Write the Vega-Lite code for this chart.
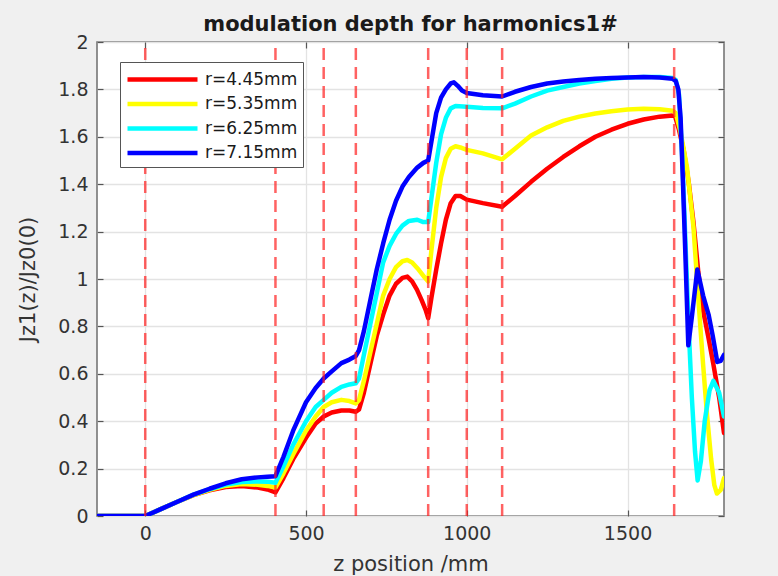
{
  "$schema": "https://vega.github.io/schema/vega-lite/v6.json",
  "width": 627,
  "height": 474,
  "autosize": {"type": "none"},
  "padding": {"left": 97, "top": 42, "right": 54, "bottom": 60},
  "background": "#f0f0f0",
  "title": {
    "text": "modulation depth for harmonics1#",
    "font": "DejaVu Sans",
    "fontSize": 21,
    "fontWeight": "bold",
    "color": "#1a1a1a",
    "offset": -2
  },
  "config": {
    "view": {"fill": "white", "stroke": "#6e6e6e", "strokeWidth": 1.5},
    "axis": {
      "labelFont": "DejaVu Sans",
      "labelFontSize": 19,
      "labelColor": "#333333",
      "titleFont": "DejaVu Sans",
      "titleFontSize": 21,
      "titleFontWeight": "normal",
      "titleColor": "#333333",
      "tickColor": "#555555",
      "tickWidth": 1.2,
      "tickSize": -6,
      "domain": false,
      "gridColor": "#e3e3e3",
      "gridWidth": 1.3
    },
    "legend": {
      "orient": "none",
      "legendX": 23,
      "legendY": 20,
      "symbolType": "M-1,0H6",
      "symbolSize": 400,
      "symbolStrokeWidth": 4.5,
      "labelFont": "DejaVu Sans",
      "labelFontSize": 17,
      "labelColor": "#1a1a1a",
      "labelOffset": 55,
      "rowPadding": 2.5,
      "strokeColor": "#555555",
      "fillColor": "white",
      "padding": 5
    }
  },
  "datasets": {
    "bounds": [
      {"z": 0}, {"z": 405}, {"z": 555}, {"z": 655}, {"z": 880}, {"z": 1000}, {"z": 1110}, {"z": 1645}
    ],
    "curves": [
      {"r": "r=4.45mm", "z": -150, "jz": 0},
      {"r": "r=4.45mm", "z": 0, "jz": 0},
      {"r": "r=4.45mm", "z": 50, "jz": 0.03},
      {"r": "r=4.45mm", "z": 100, "jz": 0.06},
      {"r": "r=4.45mm", "z": 150, "jz": 0.088},
      {"r": "r=4.45mm", "z": 200, "jz": 0.108},
      {"r": "r=4.45mm", "z": 250, "jz": 0.122},
      {"r": "r=4.45mm", "z": 300, "jz": 0.127},
      {"r": "r=4.45mm", "z": 350, "jz": 0.12},
      {"r": "r=4.45mm", "z": 380, "jz": 0.112},
      {"r": "r=4.45mm", "z": 405, "jz": 0.1},
      {"r": "r=4.45mm", "z": 430, "jz": 0.16},
      {"r": "r=4.45mm", "z": 460, "jz": 0.24},
      {"r": "r=4.45mm", "z": 500, "jz": 0.33},
      {"r": "r=4.45mm", "z": 530, "jz": 0.39},
      {"r": "r=4.45mm", "z": 555, "jz": 0.42},
      {"r": "r=4.45mm", "z": 580, "jz": 0.437},
      {"r": "r=4.45mm", "z": 610, "jz": 0.445},
      {"r": "r=4.45mm", "z": 635, "jz": 0.445},
      {"r": "r=4.45mm", "z": 655, "jz": 0.44},
      {"r": "r=4.45mm", "z": 665, "jz": 0.45},
      {"r": "r=4.45mm", "z": 680, "jz": 0.52},
      {"r": "r=4.45mm", "z": 700, "jz": 0.64},
      {"r": "r=4.45mm", "z": 720, "jz": 0.76},
      {"r": "r=4.45mm", "z": 740, "jz": 0.85},
      {"r": "r=4.45mm", "z": 760, "jz": 0.93},
      {"r": "r=4.45mm", "z": 780, "jz": 0.98},
      {"r": "r=4.45mm", "z": 800, "jz": 1.005},
      {"r": "r=4.45mm", "z": 815, "jz": 1.01},
      {"r": "r=4.45mm", "z": 830, "jz": 0.99},
      {"r": "r=4.45mm", "z": 845, "jz": 0.955},
      {"r": "r=4.45mm", "z": 860, "jz": 0.91},
      {"r": "r=4.45mm", "z": 872, "jz": 0.87},
      {"r": "r=4.45mm", "z": 880, "jz": 0.835},
      {"r": "r=4.45mm", "z": 890, "jz": 0.92},
      {"r": "r=4.45mm", "z": 905, "jz": 1.04},
      {"r": "r=4.45mm", "z": 920, "jz": 1.15},
      {"r": "r=4.45mm", "z": 935, "jz": 1.25},
      {"r": "r=4.45mm", "z": 950, "jz": 1.32},
      {"r": "r=4.45mm", "z": 965, "jz": 1.35},
      {"r": "r=4.45mm", "z": 980, "jz": 1.35},
      {"r": "r=4.45mm", "z": 1000, "jz": 1.335},
      {"r": "r=4.45mm", "z": 1050, "jz": 1.32},
      {"r": "r=4.45mm", "z": 1110, "jz": 1.305},
      {"r": "r=4.45mm", "z": 1150, "jz": 1.35},
      {"r": "r=4.45mm", "z": 1200, "jz": 1.41},
      {"r": "r=4.45mm", "z": 1250, "jz": 1.465},
      {"r": "r=4.45mm", "z": 1300, "jz": 1.515},
      {"r": "r=4.45mm", "z": 1350, "jz": 1.56},
      {"r": "r=4.45mm", "z": 1400, "jz": 1.6},
      {"r": "r=4.45mm", "z": 1450, "jz": 1.63},
      {"r": "r=4.45mm", "z": 1500, "jz": 1.655},
      {"r": "r=4.45mm", "z": 1550, "jz": 1.673},
      {"r": "r=4.45mm", "z": 1600, "jz": 1.685},
      {"r": "r=4.45mm", "z": 1640, "jz": 1.69},
      {"r": "r=4.45mm", "z": 1648, "jz": 1.685},
      {"r": "r=4.45mm", "z": 1660, "jz": 1.63},
      {"r": "r=4.45mm", "z": 1675, "jz": 1.54},
      {"r": "r=4.45mm", "z": 1690, "jz": 1.41},
      {"r": "r=4.45mm", "z": 1705, "jz": 1.24},
      {"r": "r=4.45mm", "z": 1720, "jz": 1.03},
      {"r": "r=4.45mm", "z": 1736, "jz": 0.86},
      {"r": "r=4.45mm", "z": 1752, "jz": 0.75},
      {"r": "r=4.45mm", "z": 1767, "jz": 0.64},
      {"r": "r=4.45mm", "z": 1785, "jz": 0.5},
      {"r": "r=4.45mm", "z": 1800, "jz": 0.35},

      {"r": "r=5.35mm", "z": -150, "jz": 0},
      {"r": "r=5.35mm", "z": 0, "jz": 0},
      {"r": "r=5.35mm", "z": 50, "jz": 0.03},
      {"r": "r=5.35mm", "z": 100, "jz": 0.06},
      {"r": "r=5.35mm", "z": 150, "jz": 0.088},
      {"r": "r=5.35mm", "z": 200, "jz": 0.11},
      {"r": "r=5.35mm", "z": 250, "jz": 0.127},
      {"r": "r=5.35mm", "z": 300, "jz": 0.135},
      {"r": "r=5.35mm", "z": 350, "jz": 0.132},
      {"r": "r=5.35mm", "z": 380, "jz": 0.127},
      {"r": "r=5.35mm", "z": 405, "jz": 0.12},
      {"r": "r=5.35mm", "z": 430, "jz": 0.18},
      {"r": "r=5.35mm", "z": 460, "jz": 0.26},
      {"r": "r=5.35mm", "z": 500, "jz": 0.36},
      {"r": "r=5.35mm", "z": 530, "jz": 0.42},
      {"r": "r=5.35mm", "z": 555, "jz": 0.46},
      {"r": "r=5.35mm", "z": 580, "jz": 0.48},
      {"r": "r=5.35mm", "z": 610, "jz": 0.49},
      {"r": "r=5.35mm", "z": 635, "jz": 0.485},
      {"r": "r=5.35mm", "z": 655, "jz": 0.475},
      {"r": "r=5.35mm", "z": 665, "jz": 0.49},
      {"r": "r=5.35mm", "z": 680, "jz": 0.57},
      {"r": "r=5.35mm", "z": 700, "jz": 0.69},
      {"r": "r=5.35mm", "z": 720, "jz": 0.81},
      {"r": "r=5.35mm", "z": 740, "jz": 0.93},
      {"r": "r=5.35mm", "z": 760, "jz": 1.0},
      {"r": "r=5.35mm", "z": 780, "jz": 1.05},
      {"r": "r=5.35mm", "z": 800, "jz": 1.075},
      {"r": "r=5.35mm", "z": 815, "jz": 1.08},
      {"r": "r=5.35mm", "z": 830, "jz": 1.07},
      {"r": "r=5.35mm", "z": 850, "jz": 1.04},
      {"r": "r=5.35mm", "z": 870, "jz": 1.005},
      {"r": "r=5.35mm", "z": 880, "jz": 0.99},
      {"r": "r=5.35mm", "z": 890, "jz": 1.12},
      {"r": "r=5.35mm", "z": 905, "jz": 1.3},
      {"r": "r=5.35mm", "z": 920, "jz": 1.43},
      {"r": "r=5.35mm", "z": 935, "jz": 1.51},
      {"r": "r=5.35mm", "z": 950, "jz": 1.55},
      {"r": "r=5.35mm", "z": 965, "jz": 1.56},
      {"r": "r=5.35mm", "z": 980, "jz": 1.555},
      {"r": "r=5.35mm", "z": 1000, "jz": 1.545},
      {"r": "r=5.35mm", "z": 1050, "jz": 1.53},
      {"r": "r=5.35mm", "z": 1110, "jz": 1.505},
      {"r": "r=5.35mm", "z": 1150, "jz": 1.55},
      {"r": "r=5.35mm", "z": 1200, "jz": 1.605},
      {"r": "r=5.35mm", "z": 1250, "jz": 1.64},
      {"r": "r=5.35mm", "z": 1300, "jz": 1.667},
      {"r": "r=5.35mm", "z": 1350, "jz": 1.685},
      {"r": "r=5.35mm", "z": 1400, "jz": 1.698},
      {"r": "r=5.35mm", "z": 1450, "jz": 1.708},
      {"r": "r=5.35mm", "z": 1500, "jz": 1.715},
      {"r": "r=5.35mm", "z": 1550, "jz": 1.718},
      {"r": "r=5.35mm", "z": 1600, "jz": 1.716},
      {"r": "r=5.35mm", "z": 1640, "jz": 1.71},
      {"r": "r=5.35mm", "z": 1650, "jz": 1.7},
      {"r": "r=5.35mm", "z": 1665, "jz": 1.62},
      {"r": "r=5.35mm", "z": 1685, "jz": 1.47},
      {"r": "r=5.35mm", "z": 1705, "jz": 1.22},
      {"r": "r=5.35mm", "z": 1720, "jz": 0.92},
      {"r": "r=5.35mm", "z": 1735, "jz": 0.64},
      {"r": "r=5.35mm", "z": 1747, "jz": 0.43},
      {"r": "r=5.35mm", "z": 1760, "jz": 0.24},
      {"r": "r=5.35mm", "z": 1770, "jz": 0.13},
      {"r": "r=5.35mm", "z": 1778, "jz": 0.095},
      {"r": "r=5.35mm", "z": 1790, "jz": 0.11},
      {"r": "r=5.35mm", "z": 1800, "jz": 0.16},

      {"r": "r=6.25mm", "z": -150, "jz": 0},
      {"r": "r=6.25mm", "z": 0, "jz": 0},
      {"r": "r=6.25mm", "z": 50, "jz": 0.03},
      {"r": "r=6.25mm", "z": 100, "jz": 0.06},
      {"r": "r=6.25mm", "z": 150, "jz": 0.09},
      {"r": "r=6.25mm", "z": 200, "jz": 0.113},
      {"r": "r=6.25mm", "z": 250, "jz": 0.133},
      {"r": "r=6.25mm", "z": 300, "jz": 0.143},
      {"r": "r=6.25mm", "z": 350, "jz": 0.146},
      {"r": "r=6.25mm", "z": 380, "jz": 0.145},
      {"r": "r=6.25mm", "z": 405, "jz": 0.14},
      {"r": "r=6.25mm", "z": 430, "jz": 0.21},
      {"r": "r=6.25mm", "z": 460, "jz": 0.3},
      {"r": "r=6.25mm", "z": 500, "jz": 0.4},
      {"r": "r=6.25mm", "z": 530, "jz": 0.46},
      {"r": "r=6.25mm", "z": 555, "jz": 0.49},
      {"r": "r=6.25mm", "z": 580, "jz": 0.52},
      {"r": "r=6.25mm", "z": 610, "jz": 0.545},
      {"r": "r=6.25mm", "z": 635, "jz": 0.555},
      {"r": "r=6.25mm", "z": 655, "jz": 0.56},
      {"r": "r=6.25mm", "z": 665, "jz": 0.58},
      {"r": "r=6.25mm", "z": 680, "jz": 0.68},
      {"r": "r=6.25mm", "z": 700, "jz": 0.81},
      {"r": "r=6.25mm", "z": 720, "jz": 0.94},
      {"r": "r=6.25mm", "z": 740, "jz": 1.07},
      {"r": "r=6.25mm", "z": 760, "jz": 1.14},
      {"r": "r=6.25mm", "z": 780, "jz": 1.19},
      {"r": "r=6.25mm", "z": 800, "jz": 1.225},
      {"r": "r=6.25mm", "z": 820, "jz": 1.245},
      {"r": "r=6.25mm", "z": 846, "jz": 1.25},
      {"r": "r=6.25mm", "z": 865, "jz": 1.24},
      {"r": "r=6.25mm", "z": 880, "jz": 1.24},
      {"r": "r=6.25mm", "z": 890, "jz": 1.34},
      {"r": "r=6.25mm", "z": 905, "jz": 1.49},
      {"r": "r=6.25mm", "z": 920, "jz": 1.61},
      {"r": "r=6.25mm", "z": 935, "jz": 1.68},
      {"r": "r=6.25mm", "z": 950, "jz": 1.72},
      {"r": "r=6.25mm", "z": 965, "jz": 1.73},
      {"r": "r=6.25mm", "z": 1000, "jz": 1.727},
      {"r": "r=6.25mm", "z": 1050, "jz": 1.722},
      {"r": "r=6.25mm", "z": 1110, "jz": 1.72},
      {"r": "r=6.25mm", "z": 1150, "jz": 1.74},
      {"r": "r=6.25mm", "z": 1200, "jz": 1.77},
      {"r": "r=6.25mm", "z": 1250, "jz": 1.795},
      {"r": "r=6.25mm", "z": 1300, "jz": 1.81},
      {"r": "r=6.25mm", "z": 1350, "jz": 1.825},
      {"r": "r=6.25mm", "z": 1400, "jz": 1.835},
      {"r": "r=6.25mm", "z": 1450, "jz": 1.845},
      {"r": "r=6.25mm", "z": 1500, "jz": 1.85},
      {"r": "r=6.25mm", "z": 1550, "jz": 1.852},
      {"r": "r=6.25mm", "z": 1600, "jz": 1.852},
      {"r": "r=6.25mm", "z": 1640, "jz": 1.848},
      {"r": "r=6.25mm", "z": 1650, "jz": 1.84},
      {"r": "r=6.25mm", "z": 1660, "jz": 1.78},
      {"r": "r=6.25mm", "z": 1670, "jz": 1.52},
      {"r": "r=6.25mm", "z": 1680, "jz": 1.16},
      {"r": "r=6.25mm", "z": 1690, "jz": 0.8},
      {"r": "r=6.25mm", "z": 1700, "jz": 0.5},
      {"r": "r=6.25mm", "z": 1710, "jz": 0.27},
      {"r": "r=6.25mm", "z": 1718, "jz": 0.15},
      {"r": "r=6.25mm", "z": 1728, "jz": 0.23},
      {"r": "r=6.25mm", "z": 1740, "jz": 0.4},
      {"r": "r=6.25mm", "z": 1755, "jz": 0.53},
      {"r": "r=6.25mm", "z": 1767, "jz": 0.57},
      {"r": "r=6.25mm", "z": 1785, "jz": 0.52},
      {"r": "r=6.25mm", "z": 1800, "jz": 0.42},

      {"r": "r=7.15mm", "z": -150, "jz": 0},
      {"r": "r=7.15mm", "z": 0, "jz": 0},
      {"r": "r=7.15mm", "z": 50, "jz": 0.03},
      {"r": "r=7.15mm", "z": 100, "jz": 0.06},
      {"r": "r=7.15mm", "z": 150, "jz": 0.09},
      {"r": "r=7.15mm", "z": 200, "jz": 0.115},
      {"r": "r=7.15mm", "z": 250, "jz": 0.138},
      {"r": "r=7.15mm", "z": 300, "jz": 0.155},
      {"r": "r=7.15mm", "z": 350, "jz": 0.163},
      {"r": "r=7.15mm", "z": 380, "jz": 0.166},
      {"r": "r=7.15mm", "z": 405, "jz": 0.168},
      {"r": "r=7.15mm", "z": 430, "jz": 0.25},
      {"r": "r=7.15mm", "z": 460, "jz": 0.36},
      {"r": "r=7.15mm", "z": 500, "jz": 0.48},
      {"r": "r=7.15mm", "z": 530, "jz": 0.54},
      {"r": "r=7.15mm", "z": 555, "jz": 0.58},
      {"r": "r=7.15mm", "z": 580, "jz": 0.61},
      {"r": "r=7.15mm", "z": 610, "jz": 0.645},
      {"r": "r=7.15mm", "z": 635, "jz": 0.66},
      {"r": "r=7.15mm", "z": 655, "jz": 0.675},
      {"r": "r=7.15mm", "z": 665, "jz": 0.7},
      {"r": "r=7.15mm", "z": 680, "jz": 0.78},
      {"r": "r=7.15mm", "z": 700, "jz": 0.91},
      {"r": "r=7.15mm", "z": 720, "jz": 1.04},
      {"r": "r=7.15mm", "z": 740, "jz": 1.15},
      {"r": "r=7.15mm", "z": 760, "jz": 1.25},
      {"r": "r=7.15mm", "z": 780, "jz": 1.33},
      {"r": "r=7.15mm", "z": 800, "jz": 1.39},
      {"r": "r=7.15mm", "z": 820, "jz": 1.43},
      {"r": "r=7.15mm", "z": 846, "jz": 1.47},
      {"r": "r=7.15mm", "z": 865, "jz": 1.49},
      {"r": "r=7.15mm", "z": 880, "jz": 1.5},
      {"r": "r=7.15mm", "z": 890, "jz": 1.58},
      {"r": "r=7.15mm", "z": 905, "jz": 1.7},
      {"r": "r=7.15mm", "z": 920, "jz": 1.765},
      {"r": "r=7.15mm", "z": 935, "jz": 1.8},
      {"r": "r=7.15mm", "z": 950, "jz": 1.825},
      {"r": "r=7.15mm", "z": 960, "jz": 1.83},
      {"r": "r=7.15mm", "z": 972, "jz": 1.815},
      {"r": "r=7.15mm", "z": 985, "jz": 1.795},
      {"r": "r=7.15mm", "z": 1000, "jz": 1.785},
      {"r": "r=7.15mm", "z": 1050, "jz": 1.775},
      {"r": "r=7.15mm", "z": 1110, "jz": 1.77},
      {"r": "r=7.15mm", "z": 1150, "jz": 1.79},
      {"r": "r=7.15mm", "z": 1200, "jz": 1.81},
      {"r": "r=7.15mm", "z": 1250, "jz": 1.825},
      {"r": "r=7.15mm", "z": 1300, "jz": 1.833},
      {"r": "r=7.15mm", "z": 1350, "jz": 1.84},
      {"r": "r=7.15mm", "z": 1400, "jz": 1.845},
      {"r": "r=7.15mm", "z": 1450, "jz": 1.848},
      {"r": "r=7.15mm", "z": 1500, "jz": 1.85},
      {"r": "r=7.15mm", "z": 1550, "jz": 1.852},
      {"r": "r=7.15mm", "z": 1600, "jz": 1.85},
      {"r": "r=7.15mm", "z": 1640, "jz": 1.845},
      {"r": "r=7.15mm", "z": 1650, "jz": 1.835},
      {"r": "r=7.15mm", "z": 1658, "jz": 1.8},
      {"r": "r=7.15mm", "z": 1665, "jz": 1.68},
      {"r": "r=7.15mm", "z": 1672, "jz": 1.42},
      {"r": "r=7.15mm", "z": 1680, "jz": 1.1},
      {"r": "r=7.15mm", "z": 1689, "jz": 0.72},
      {"r": "r=7.15mm", "z": 1700, "jz": 0.84},
      {"r": "r=7.15mm", "z": 1717, "jz": 1.04},
      {"r": "r=7.15mm", "z": 1735, "jz": 0.93},
      {"r": "r=7.15mm", "z": 1752, "jz": 0.85},
      {"r": "r=7.15mm", "z": 1765, "jz": 0.76},
      {"r": "r=7.15mm", "z": 1779, "jz": 0.65},
      {"r": "r=7.15mm", "z": 1790, "jz": 0.655},
      {"r": "r=7.15mm", "z": 1800, "jz": 0.68}
    ]
  },
  "layer": [
    {
      "data": {"name": "curves"},
      "mark": {"type": "line", "strokeWidth": 4.5, "strokeJoin": "round", "strokeCap": "round", "clip": true},
      "encoding": {
        "x": {
          "field": "z",
          "type": "quantitative",
          "scale": {"domain": [-150, 1800], "nice": false, "zero": false},
          "axis": {
            "orient": "bottom",
            "title": "z position /mm",
            "values": [0, 500, 1000, 1500],
            "format": "d",
            "grid": true,
            "labelPadding": 14,
            "titlePadding": 10
          }
        },
        "y": {
          "field": "jz",
          "type": "quantitative",
          "scale": {"domain": [0, 2], "nice": false},
          "axis": {
            "orient": "left",
            "title": "Jz1(z)/Jz0(0)",
            "values": [0, 0.2, 0.4, 0.6, 0.8, 1, 1.2, 1.4, 1.6, 1.8, 2],
            "format": "~g",
            "grid": true,
            "labelPadding": 15,
            "titlePadding": 19
          }
        },
        "color": {
          "field": "r",
          "type": "nominal",
          "scale": {
            "domain": ["r=4.45mm", "r=5.35mm", "r=6.25mm", "r=7.15mm"],
            "range": ["#ff0000", "#ffff00", "#00ffff", "#0000ff"]
          },
          "legend": {"title": null}
        }
      }
    },
    {
      "data": {"name": "bounds"},
      "mark": {"type": "rule", "color": "#ff2020", "opacity": 0.7, "strokeWidth": 2.5, "strokeDash": [12, 7]},
      "encoding": {
        "x": {
          "field": "z",
          "type": "quantitative",
          "axis": {"orient": "top", "title": null, "labels": false, "grid": false, "values": [0, 500, 1000, 1500]}
        },
        "y": {
          "datum": 0,
          "type": "quantitative",
          "axis": {"orient": "right", "title": null, "labels": false, "grid": false, "values": [0, 0.2, 0.4, 0.6, 0.8, 1, 1.2, 1.4, 1.6, 1.8, 2]}
        },
        "y2": {"datum": 2}
      }
    }
  ],
  "resolve": {"axis": {"x": "independent", "y": "independent"}}
}
